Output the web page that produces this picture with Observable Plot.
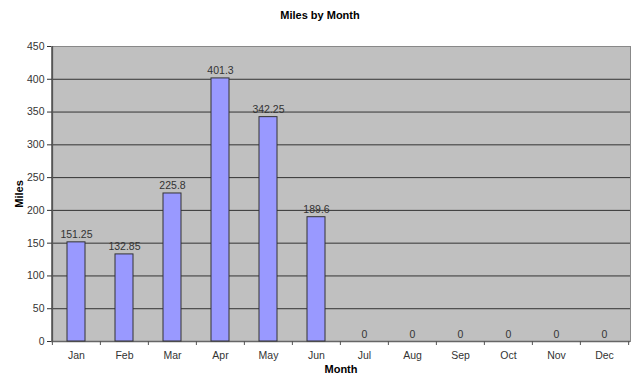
<!DOCTYPE html>
<html><head><meta charset="utf-8">
<script src="https://cdn.jsdelivr.net/npm/d3@7"></script>
<script src="https://cdn.jsdelivr.net/npm/@observablehq/plot@0.6"></script>
<style>
body{margin:0;background:#fff;font-family:"Liberation Sans",Arial,sans-serif;}
#title{height:30px;line-height:30px;text-align:center;font-weight:bold;font-size:11px;color:#000;}
</style>
</head><body>
<div id="title">Miles by Month</div>
<div id="chart"></div>
<script>
const months = ["Jan","Feb","Mar","Apr","May","Jun","Jul","Aug","Sep","Oct","Nov","Dec"];
const miles = [151.25, 132.85, 225.8, 401.3, 342.25, 189.6, 0, 0, 0, 0, 0, 0];
const yTicks = [0,50,100,150,200,250,300,350,400,450];

const data = months.map((m,i)=>({month:m, miles:miles[i]}));
const W = 640, ML = 51, MR = 10;
const step = (W - ML - MR) / months.length;

const chart = Plot.plot({
  width: W, height: 351,
  marginTop: 16, marginBottom: 40, marginLeft: ML, marginRight: MR,
  style: {fontFamily: '"Liberation Sans", Arial, sans-serif', fontSize: "10px", color: "#333", background: "#fff"},
  x: {domain: months, paddingInner: 0.62, paddingOuter: 0.31, label: null},
  y: {domain: [0,450], label: null},
  marks: [
    Plot.frame({fill: "#C0C0C0", stroke: "#888"}),
    Plot.ruleY(yTicks.filter(d=>d>0 && d<450), {stroke: "#333", strokeWidth: 1}),
    Plot.ruleY([0], {stroke: "#666", strokeWidth: 1.5}),
    Plot.ruleX([0], {x: ()=>months[0], dx: -step/2, y1: 0, y2: 450, stroke: "#555", strokeWidth: 1.5}),
    Plot.barY(data, {x: "month", y: "miles", fill: "#9999FF", stroke: "#333", strokeWidth: 1}),
    Plot.text(data, {x: "month", y: "miles", text: d=>String(d.miles), lineAnchor: "bottom", dy: -4, fill: "#333", fontSize: 10.5}),
    Plot.ruleX(months, {x: d=>d, y1: 0, y2: 0, insetBottom: -4, dx: -step/2, stroke: "#555"}),
    Plot.ruleX([months[11]], {x: d=>d, y1: 0, y2: 0, insetBottom: -4, dx: step/2, stroke: "#555"}),
    Plot.axisX({tickSize: 0, tickPadding: 10, fontSize: 10.5, label: "Month", labelAnchor: "center", labelArrow: "none", labelOffset: 31}),
    Plot.axisY({ticks: yTicks, tickSize: 4, tickPadding: 3, fontSize: 10.5, label: "Miles", labelAnchor: "center", labelArrow: "none", labelOffset: 36})
  ]
});
chart.querySelectorAll('[aria-label="x-axis label"], [aria-label="y-axis label"]').forEach(g=>{g.setAttribute("font-weight","bold"); g.setAttribute("fill","#000"); g.setAttribute("font-size","11");});
document.getElementById("chart").appendChild(chart);
</script>
</body></html>
